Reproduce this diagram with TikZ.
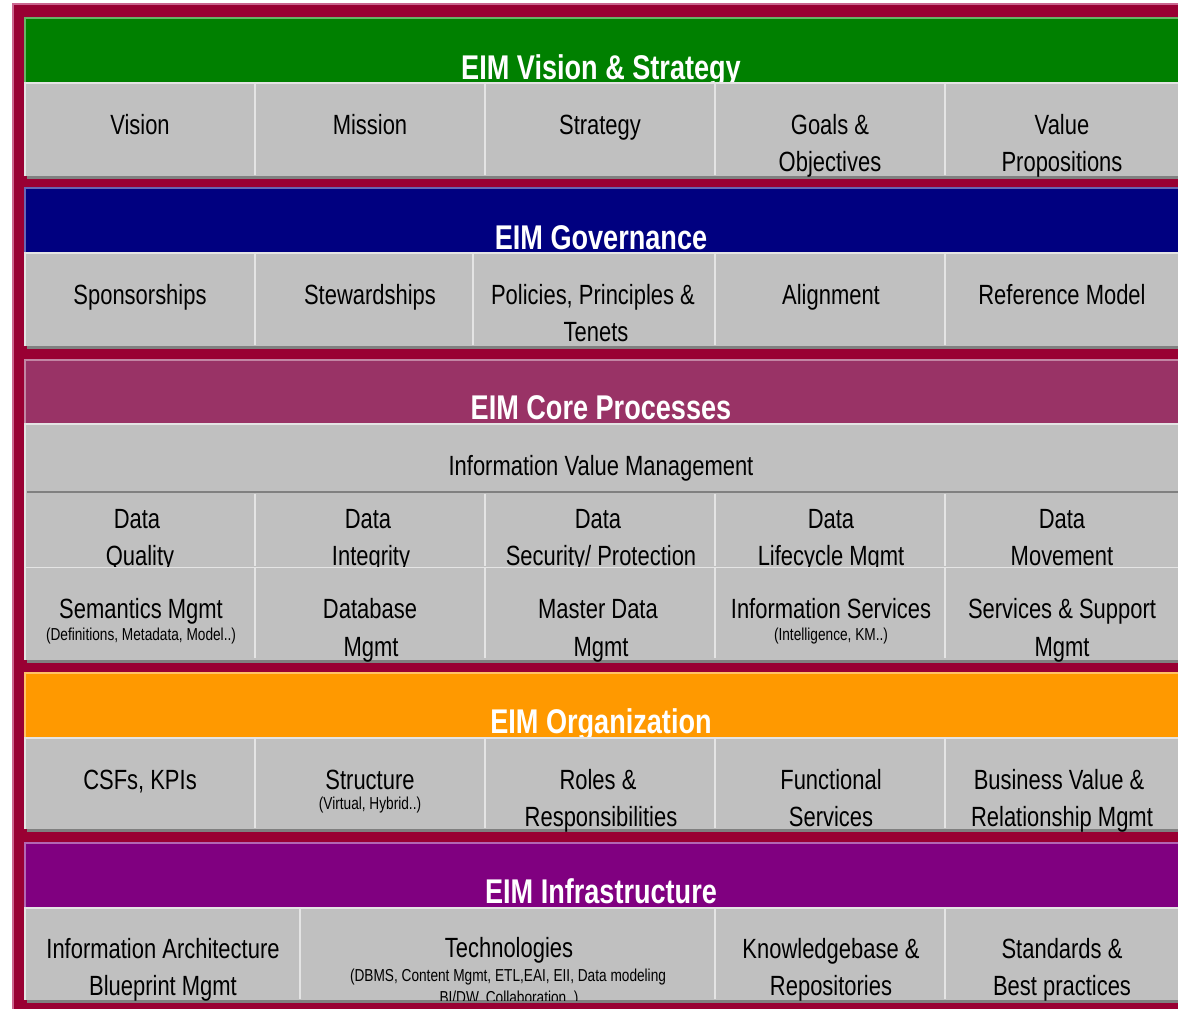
\documentclass[tikz,border=0pt]{standalone}
\usepackage{fontspec}
\setmainfont{Liberation Sans}[FakeStretch=0.79]
\definecolor{maroonbg}{HTML}{990033}
\definecolor{pinkline}{HTML}{CC6690}
\definecolor{greenhead}{HTML}{008000}
\definecolor{greenlight}{HTML}{66B366}
\definecolor{navyhead}{HTML}{000080}
\definecolor{navylight}{HTML}{6666B3}
\definecolor{corehead}{HTML}{993366}
\definecolor{corelight}{HTML}{C285A3}
\definecolor{orangehead}{HTML}{FF9900}
\definecolor{orangelight}{HTML}{FFC266}
\definecolor{purplehead}{HTML}{800080}
\definecolor{purplelight}{HTML}{B366B3}
\definecolor{cellgray}{HTML}{C0C0C0}
\definecolor{sepcol}{HTML}{E4E4E4}
\definecolor{shadowgray}{HTML}{808080}
\newcommand{\eimhead}[5]{%
  \fill[shadowgray] (27,#1+3) rectangle (1181,#3+3);
  \fill[#4] (24,#1) rectangle (1178,#2);
  \draw[#5, line width=1.5pt] (24.75,#2) -- (24.75,#1+0.75) -- (1178,#1+0.75);
}
\newcommand{\eimcells}[2]{%
  \fill[cellgray] (24,#1) rectangle (1178,#2);
  \draw[sepcol, line width=1.5pt] (24.75,#2) -- (24.75,#1+0.75) -- (1178,#1+0.75);
}
\begin{document}
\begin{tikzpicture}[x=1pt,y=-1pt,
  big/.style={font=\fontsize{27.8}{32}\selectfont, anchor=base, inner sep=0pt, text=black},
  small/.style={font=\fontsize{17.3}{20}\selectfont, anchor=base, inner sep=0pt, text=black},
  head/.style={font=\bfseries\fontsize{34.3}{40}\selectfont, anchor=base, inner sep=0pt, text=white},
  sep/.style={draw=sepcol, line width=2pt}]
\useasboundingbox (0,0) rectangle (1178,1009);
\clip (0,0) rectangle (1178,1009);
\fill[white] (0,0) rectangle (1178,1009);
\fill[maroonbg] (12,3) rectangle (1190,1020);
\draw[pinkline, line width=1.5pt] (12.75,1020) -- (12.75,3.75) -- (1190,3.75);

% ---------------- Band 1: Vision & Strategy
\eimhead{17}{82}{176}{greenhead}{greenlight}
\node[head] (h1) at (601,79) {EIM Vision \& Strategy};
\eimcells{82}{176}
\foreach \sx in {255,485,715,945} \draw[sep] (\sx,83) -- (\sx,175);
\node[big] (v1) at (140,134) {Vision};
\node[big] (v2) at (370,134) {Mission};
\node[big] (v3) at (600,134) {Strategy};
\node[big] (v4a) at (830,134) {Goals \&};
\node[big] (v4b) at (830,171) {Objectives};
\node[big] (v5a) at (1062,134) {Value};
\node[big] (v5b) at (1062,171) {Propositions};

% ---------------- Band 2: Governance
\eimhead{187}{252}{346}{navyhead}{navylight}
\node[head] (h2) at (601,249) {EIM Governance};
\eimcells{252}{346}
\foreach \sx in {255,473,715,945} \draw[sep] (\sx,254) -- (\sx,345);
\node[big] (g1) at (140,304) {Sponsorships};
\node[big] (g2) at (370,304) {Stewardships};
\node[big] (g3a) at (593,304) {Policies, Principles \&};
\node[big] (g3b) at (596,341) {Tenets};
\node[big] (g4) at (831,304) {Alignment};
\node[big] (g5) at (1062,304) {Reference Model};

% ---------------- Band 3: Core Processes
\eimhead{359}{423}{660}{corehead}{corelight}
\node[head] (h3) at (601,419) {EIM Core Processes};
\eimcells{423}{660}
\node[big] (ivm) at (601,475) {Information Value Management};
\draw[shadowgray, line width=2pt] (27,492) -- (1178,492);
\foreach \sx in {255,485,715,945} \draw[sep] (\sx,494) -- (\sx,566);
\node[big] (d1a) at (137,528) {Data};
\node[big] (d1b) at (140,565) {Quality};
\node[big] (d2a) at (368,528) {Data};
\node[big] (d2b) at (371,565) {Integrity};
\node[big] (d3a) at (598,528) {Data};
\node[big] (d3b) at (601,565) {Security/ Protection};
\node[big] (d4a) at (831,528) {Data};
\node[big] (d4b) at (831,565) {Lifecycle Mgmt};
\node[big] (d5a) at (1062,528) {Data};
\node[big] (d5b) at (1062,565) {Movement};
\fill[cellgray] (26,567) rectangle (1178,660);
\draw[sepcol, line width=1.5pt] (24,567.5) -- (1178,567.5);
\foreach \sx in {255,485,715,945} \draw[sep] (\sx,568) -- (\sx,658);
\node[big] (s1a) at (141,618) {Semantics Mgmt};
\node[small] (s1b) at (141,640) {(Definitions, Metadata, Model..)};
\node[big] (s2a) at (370,618) {Database};
\node[big] (s2b) at (371,656) {Mgmt};
\node[big] (s3a) at (598,618) {Master Data};
\node[big] (s3b) at (601,656) {Mgmt};
\node[big] (s4a) at (831,618) {Information Services};
\node[small] (s4b) at (831,640) {(Intelligence, KM..)};
\node[big] (s5a) at (1062,618) {Services \& Support};
\node[big] (s5b) at (1062,656) {Mgmt};

% ---------------- Band 4: Organization
\eimhead{672}{737}{829}{orangehead}{orangelight}
\node[head] (h4) at (601,733) {EIM Organization};
\eimcells{737}{829}
\foreach \sx in {255,485,715,945} \draw[sep] (\sx,739) -- (\sx,828);
\node[big] (o1) at (140,789) {CSFs, KPIs};
\node[big] (o2a) at (370,789) {Structure};
\node[small] (o2b) at (370,809) {(Virtual, Hybrid..)};
\node[big] (o3a) at (598,789) {Roles \&};
\node[big] (o3b) at (601,826) {Responsibilities};
\node[big] (o4a) at (831,789) {Functional};
\node[big] (o4b) at (831,826) {Services};
\node[big] (o5a) at (1059,789) {Business Value \&};
\node[big] (o5b) at (1062,826) {Relationship Mgmt};

% ---------------- Band 5: Infrastructure
\eimhead{842}{907}{1000}{purplehead}{purplelight}
\node[head] (h5) at (601,903) {EIM Infrastructure};
\eimcells{907}{1000}
\foreach \sx in {300,715,945} \draw[sep] (\sx,909) -- (\sx,999);
\begin{scope}
\clip (24,907) rectangle (1178,1000.5);
\node[big] (i1a) at (163,958) {Information Architecture};
\node[big] (i1b) at (163,995) {Blueprint Mgmt};
\node[big] (i2a) at (509,957) {Technologies};
\node[small] (i2b) at (508,981) {(DBMS, Content Mgmt, ETL,EAI, EII, Data modeling};
\node[small] (i2c) at (509,1003) {BI/DW, Collaboration..)};
\node[big] (i3a) at (831,958) {Knowledgebase \&};
\node[big] (i3b) at (831,995) {Repositories};
\node[big] (i4a) at (1062,958) {Standards \&};
\node[big] (i4b) at (1062,995) {Best practices};
\end{scope}
\end{tikzpicture}
\end{document}
